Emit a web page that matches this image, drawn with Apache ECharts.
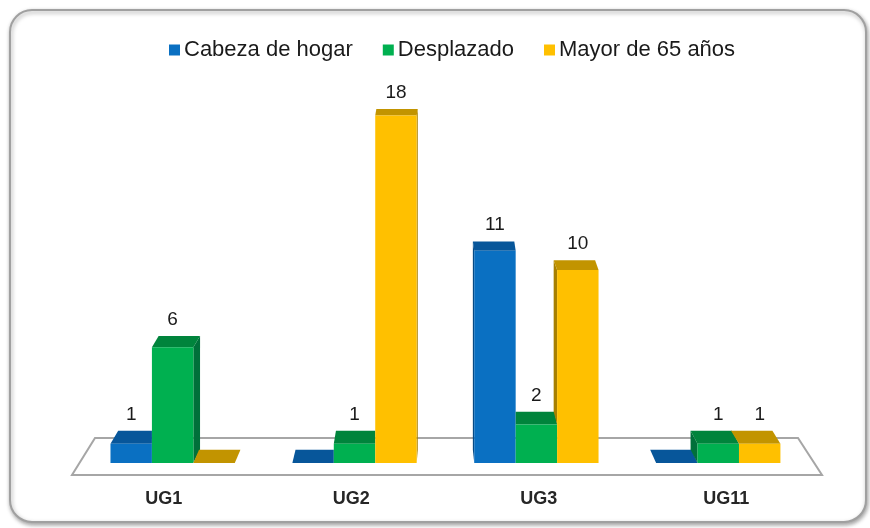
<!DOCTYPE html>
<html>
<head>
<meta charset="utf-8">
<script src="https://cdn.jsdelivr.net/npm/echarts@6/dist/echarts.min.js"></script>
<style>
  html, body { margin: 0; padding: 0; background: #fff; }
  #main { width: 870px; height: 528px; }
</style>
</head>
<body>
<div id="main"></div>
<script>
const categories = ['UG1', 'UG2', 'UG3', 'UG11'];
const seriesNames = ['Cabeza de hogar', 'Desplazado', 'Mayor de 65 años'];
const cabezaDeHogar = [1, 0, 11, 0];
const desplazado = [6, 1, 2, 1];
const mayorDe65 = [0, 18, 10, 1];
const values = [cabezaDeHogar, desplazado, mayorDe65];

const frontColors = ['#0a70c2', '#00b050', '#ffc000'];
const topColors = ['#07569a', '#00843c', '#c29400'];
const sideColors = ['#054a85', '#00703a', '#a88000'];

const FONT = '"Liberation Sans", Arial, sans-serif';
const VX = 440;   // punto de fuga para las caras laterales
const PX = 460;   // centro de la perspectiva horizontal

function depth(y) {
  return 4.5 + 0.019 * y;
}

function renderBar(params, api) {
  const s = params.seriesIndex;
  const ci = api.value(0);
  const v = api.value(1);
  const base = api.coord([ci, 0]);
  const bandW = api.size([1, 0])[0];
  const w = bandW * 0.221;
  const cx = PX + (base[0] - PX) * 0.97;
  const xL = cx + (s - 1.5) * w;
  const xR = xL + w;
  const yB = base[1];
  const yT = api.coord([ci, v])[1];
  const d = depth(yT);
  const dx = (VX - (xL + xR) / 2) * 0.025;
  const children = [];

  // cara lateral
  const nIdx = dx > 0 ? s + 1 : s - 1;
  const nVal = (nIdx >= 0 && nIdx < values.length) ? values[nIdx][ci] : 0;
  const nY = api.coord([ci, nVal])[1];
  if (nY > yT) {
    const ex = dx > 0 ? xR : xL;
    children.push({
      type: 'polygon',
      shape: { points: [[ex, yT], [ex + dx, yT - d], [ex + dx, nY - depth(nY)], [ex, nY]] },
      style: { fill: sideColors[s] }
    });
  }

  // cara superior
  let pts;
  if (dx > 0 && nVal > v) {
    pts = [[xL, yT], [xR, yT], [xR, yT - d], [xL + dx, yT - d]];
  } else if (dx < 0 && nVal > v) {
    pts = [[xL, yT], [xR, yT], [xR + dx, yT - d], [xL, yT - d]];
  } else {
    pts = [[xL, yT], [xR, yT], [xR + dx, yT - d], [xL + dx, yT - d]];
  }
  children.push({ type: 'polygon', shape: { points: pts }, style: { fill: topColors[s] } });

  // cara frontal
  if (v > 0) {
    children.push({
      type: 'rect',
      shape: { x: xL, y: yT, width: w, height: yB - yT },
      style: { fill: frontColors[s] }
    });
    children.push({
      type: 'text',
      style: {
        text: String(v),
        x: (xL + xR) / 2,
        y: yT - d - 7,
        align: 'center',
        verticalAlign: 'bottom',
        fill: '#1a1a1a',
        font: '19px ' + FONT
      }
    });
  }
  return { type: 'group', children: children };
}

const chart = echarts.init(document.getElementById('main'));

const option = {
  backgroundColor: '#ffffff',
  animation: false,
  textStyle: { fontFamily: FONT },
  graphic: [
    {
      type: 'rect',
      z: 0,
      shape: { x: 10, y: 10, width: 856, height: 512, r: 22 },
      style: {
        fill: '#ffffff',
        stroke: '#a0a0a0',
        lineWidth: 2,
        shadowBlur: 4,
        shadowOffsetX: 1,
        shadowOffsetY: 2,
        shadowColor: 'rgba(0,0,0,0.35)'
      }
    },
    {
      type: 'polygon',
      z: 1,
      shape: { points: [[95, 438], [798, 438], [822, 475], [72, 475]] },
      style: { fill: '#ffffff', stroke: '#a6a6a6', lineWidth: 2 }
    }
  ],
  legend: {
    left: 164,
    top: 33,
    itemWidth: 11,
    itemHeight: 11,
    itemGap: 30,
    icon: 'rect',
    data: seriesNames,
    textStyle: { fontSize: 22, color: '#1a1a1a', fontFamily: FONT, lineHeight: 24, padding: [0, 0, 0, -1] }
  },
  grid: { left: 70, right: 50, top: 77, bottom: 65 },
  xAxis: {
    type: 'category',
    data: categories,
    axisLine: { show: false },
    axisTick: { show: false },
    splitLine: { show: false },
    axisLabel: {
      margin: 26,
      fontSize: 18,
      fontWeight: 'bold',
      color: '#262626',
      lineHeight: 20,
      fontFamily: FONT
    }
  },
  yAxis: {
    type: 'value',
    min: 0,
    max: 20,
    show: false
  },
  series: seriesNames.map((name, s) => ({
    name: name,
    type: 'custom',
    z: 2 + s,
    clip: false,
    itemStyle: { color: frontColors[s] },
    renderItem: renderBar,
    encode: { x: 0, y: 1 },
    data: values[s].map((v, i) => [i, v])
  }))
};

chart.setOption(option);
</script>
</body>
</html>
